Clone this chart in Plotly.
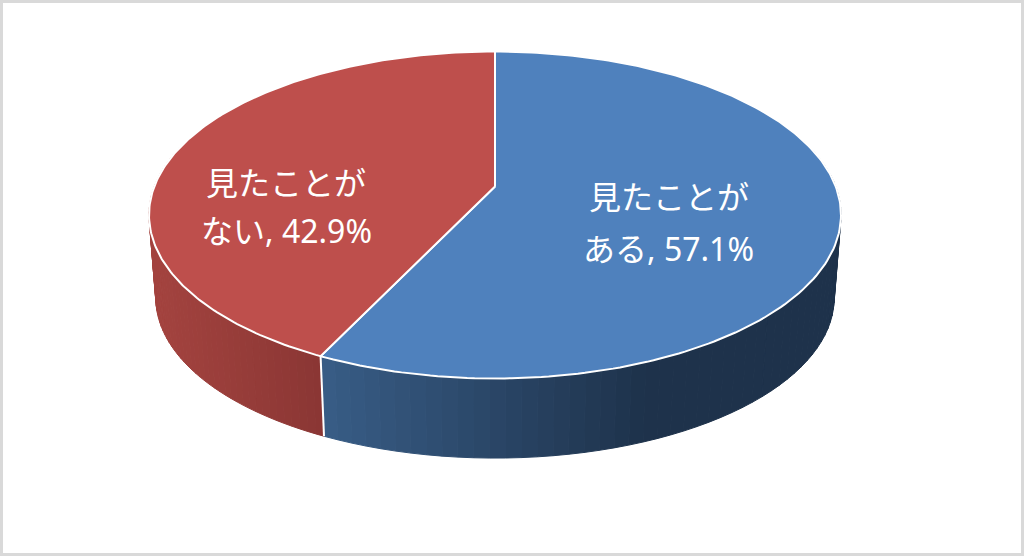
import numpy as np
import plotly.graph_objects as go

# Pie data
labels = ['ある', 'ない']
prefix = '見たことが'
values = [57.1, 42.9]

# Slice colours (top face) and side gradient stops (left end, right end)
top_colors = ['#4F81BD', '#BE4F4C']
side_stops = [((56, 92, 133), (30, 50, 75)), ((163, 67, 63), (138, 54, 52))]
side_x_span = [(322, 640), (157, 322)]

# Perspective of the pie: a tilted disc, k is the foreshortening
cx = 495
k = 0.1743
top_disc = dict(r=340.7, s=158.5, y0=186.5)
bottom_disc = dict(r=334.0, s=155.3, y0=270.0)


def project(angle, disc):
    # angle in degrees, clockwise from 12 o'clock
    u = np.sin(np.radians(angle))
    v = -np.cos(np.radians(angle))
    w = 1 - k * v
    return cx + disc['r'] * u / w, disc['y0'] + disc['s'] * v / w


def mix(stops, t):
    t = min(max(t, 0), 1)
    a, b = stops
    return 'rgb(%d,%d,%d)' % tuple(a[i] + (b[i] - a[i]) * t for i in range(3))


fig = go.Figure()

total = sum(values)
edges = np.cumsum([0] + values) / total * 360

# Side wall: only the part facing the viewer, drawn in thin coloured bands
visible_from, visible_to = 72.5, 287.5
for i in range(len(values)):
    start = max(edges[i], visible_from)
    end = min(edges[i + 1], visible_to)
    steps = np.linspace(start, end, 60)
    for a0, a1 in zip(steps[:-1], steps[1:]):
        x0, y0 = project(a0, top_disc)
        x1, y1 = project(a1, top_disc)
        x2, y2 = project(a1, bottom_disc)
        x3, y3 = project(a0, bottom_disc)
        lo, hi = side_x_span[i]
        color = mix(side_stops[i], (min(x0, x1) - lo) / (hi - lo))
        fig.add_trace(go.Scatter(
            x=[x0, x1, x2, x3, x0], y=[y0, y1, y2, y3, y0],
            mode='lines', fill='toself', fillcolor=color,
            line=dict(color=color, width=1), hoverinfo='skip'))

# White edge between the two side walls
for a in edges[1:-1]:
    xa, ya = project(a, top_disc)
    xb, yb = project(a, bottom_disc)
    fig.add_trace(go.Scatter(x=[xa, xb], y=[ya, yb], mode='lines',
                             line=dict(color='white', width=2), hoverinfo='skip'))

# Top face, each slice runs from the disc centre round its arc
for i in range(len(values)):
    angles = np.linspace(edges[i], edges[i + 1], 200)
    xs, ys = project(angles, top_disc)
    ax, ay = cx, top_disc['y0']
    fig.add_trace(go.Scatter(
        x=np.r_[ax, xs, ax], y=np.r_[ay, ys, ay],
        mode='lines', fill='toself', fillcolor=top_colors[i],
        line=dict(color='white', width=2), hoverinfo='skip'))

# Data labels
label_pos = [(668.5, 195, 247), (286, 181, 229)]
font = dict(family='Noto Sans CJK JP', size=32, color='white')
for label, value, (lx, y1, y2) in zip(labels, values, label_pos):
    fig.add_annotation(x=lx, y=y1, text=prefix, showarrow=False, font=font)
    fig.add_annotation(
        x=lx, y=y2, showarrow=False, font=font,
        text="%s<span style=\"font-family:'Noto Sans';font-size:32px\">, %.1f%%</span>" % (label, value))

fig.update_layout(
    width=1024, height=556,
    autosize=False,
    showlegend=False,
    paper_bgcolor='white',
    plot_bgcolor='white',
    margin=dict(l=0, r=0, t=0, b=0),
    xaxis=dict(range=[0, 1024], visible=False, fixedrange=True),
    yaxis=dict(range=[556, 0], visible=False, fixedrange=True),
    # Grey picture frame
    shapes=[dict(type='rect', xref='paper', yref='paper', x0=0, y0=0, x1=1, y1=1,
                 line=dict(color='#D9D9D9', width=6), layer='below')],
)

# The page's default body margin would push the chart off the window
fig.write_html("out.html", config=dict(displayModeBar=False),
               post_script="document.body.style.margin='0';document.body.style.overflow='hidden';")
